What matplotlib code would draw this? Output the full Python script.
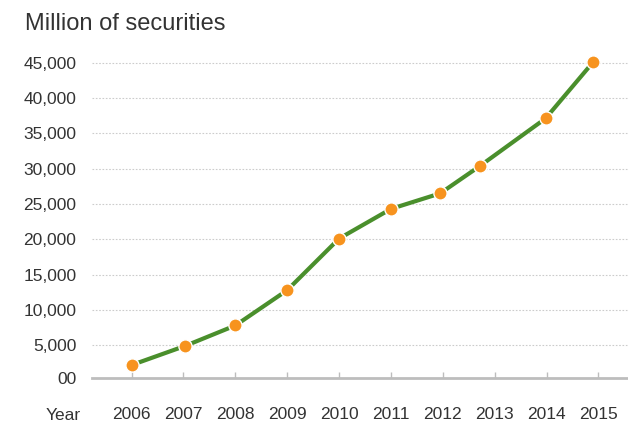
import matplotlib
matplotlib.use("Agg")
import matplotlib.pyplot as plt

years = [2006.0, 2007.03, 2008.0, 2009.0, 2010.0, 2011.0, 2011.95, 2012.72, 2013.98, 2014.9]
values = [2200, 4900, 7800, 12800, 20100, 24300, 26500, 30400, 37100, 45100]
xtick_years = [2006, 2007, 2008, 2009, 2010, 2011, 2012, 2013, 2014, 2015]
ytick_values = [410, 5000, 10000, 15000, 20000, 25000, 30000, 35000, 40000, 45000]
ytick_labels = ["00", "5,000", "10,000", "15,000", "20,000", "25,000", "30,000", "35,000", "40,000", "45,000"]

plt.rcParams['font.family'] = ['Liberation Sans', 'DejaVu Sans']

fig = plt.figure(figsize=(6.28, 4.22), dpi=100)
ax = fig.add_axes([0.146, 0.105, 0.854, 0.7765])

ax.plot(years, values, color='#4a8f2c', linewidth=3.0, zorder=3, solid_capstyle='butt')
ax.plot(years, values, linestyle='none', marker='o', markersize=9.5,
        markerfacecolor='#f7931e', markeredgecolor='white', markeredgewidth=1.0, zorder=4)

ax.set_xlim(2005.23, 2015.57)
ax.set_ylim(410, 46790)

ax.set_xticks(xtick_years)
ax.set_xticklabels([str(y) for y in xtick_years])
ax.set_yticks(ytick_values)
ax.set_yticklabels(ytick_labels)

for s in ['top', 'right', 'left']:
    ax.spines[s].set_visible(False)
ax.spines['bottom'].set_color('#bdbdbd')
ax.spines['bottom'].set_linewidth(2)

ax.tick_params(axis='x', direction='in', length=4, width=1, color='#bdbdbd',
               pad=21, labelsize=12.5, labelcolor='#333333')
ax.tick_params(axis='y', length=0, pad=11, labelsize=12.5, labelcolor='#333333')

ax.yaxis.grid(True, linestyle=(0, (1.5, 1.5)), color='#cccccc', linewidth=0.8)
ax.set_axisbelow(True)
gl = ax.yaxis.get_gridlines()
gl[0].set_visible(False)

fig.text(80.5 / 628, 1 - 415 / 422, "Year", ha='right', va='center', fontsize=12.5, color='#333333')
fig.text(25 / 628, 1 - 24 / 422, "Million of securities", ha='left', va='center', fontsize=17, color='#333333')

fig.savefig("out.png", dpi=100)
